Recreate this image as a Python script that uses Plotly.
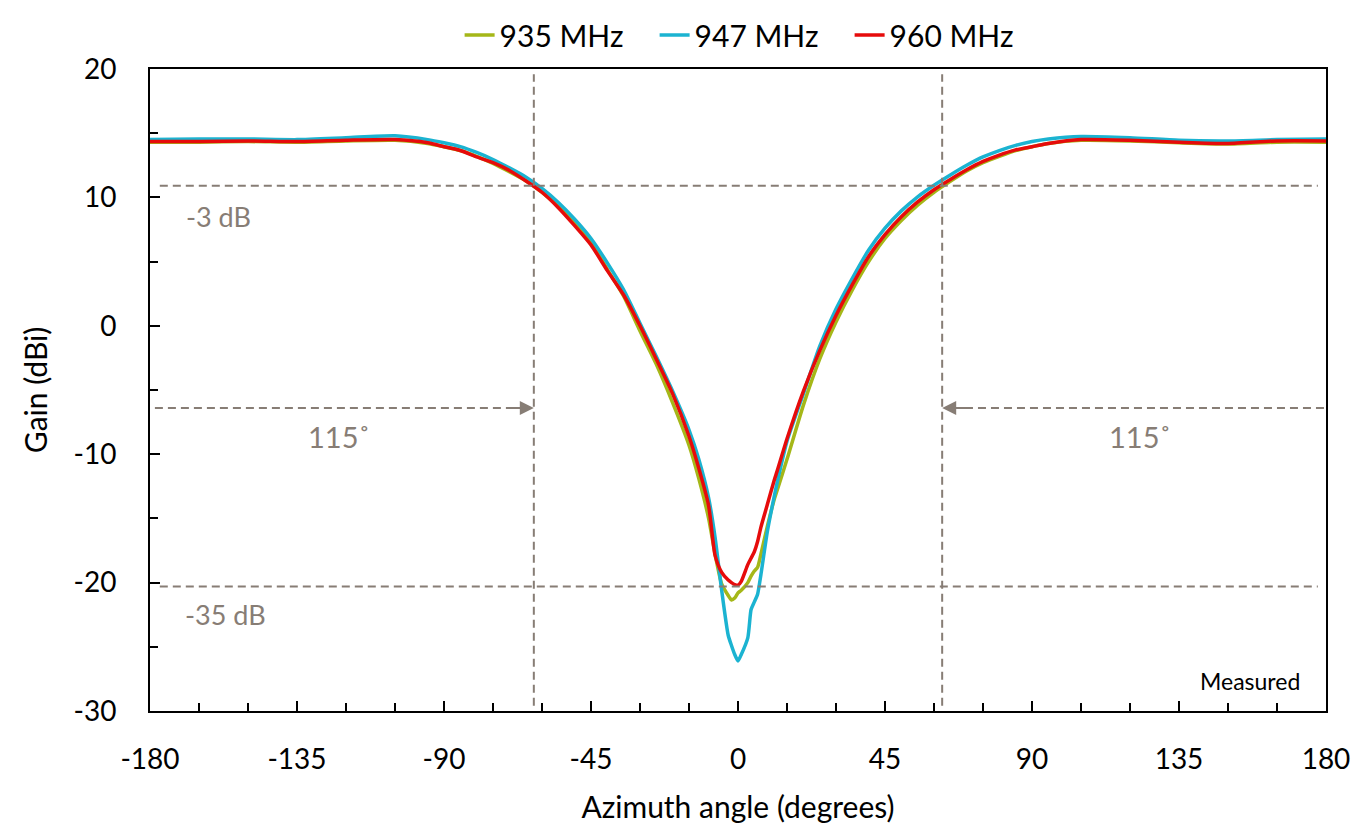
import plotly.graph_objects as go

angles = [-180, -165, -150, -135, -120, -105, -95, -90, -85, -80, -75, -70, -65, -60, -55, -50,
          -45, -40, -35, -30, -25, -20, -15, -12, -9, -7, -5, -3, -2, -1, 0, 1, 3, 4, 5, 6, 7, 9,
          11, 12, 15, 20, 25, 30, 35, 40, 45, 50, 55, 60, 65, 70, 75, 80, 85, 90, 95, 105, 120,
          135, 150, 165, 180]

gain_935 = [14.3, 14.3, 14.35, 14.3, 14.4, 14.45, 14.2, 13.95, 13.65, 13.2, 12.65, 12.0, 11.3, 10.4,
            9.3, 8.0, 6.5, 4.4, 2.3, -0.4, -3.0, -6.0, -9.3, -11.9, -15.0, -17.8, -20.1, -21.0,
            -21.35, -21.2, -20.8, -20.6, -20.0, -19.5, -19.1, -18.8, -17.8, -15.6, -13.6, -12.8,
            -10.4, -6.2, -2.6, 0.3, 2.8, 5.0, 6.8, 8.2, 9.4, 10.4, 11.25, 12.05, 12.7, 13.2, 13.65,
            13.95, 14.2, 14.45, 14.4, 14.25, 14.15, 14.3, 14.3]

gain_947 = [14.5, 14.55, 14.55, 14.5, 14.65, 14.8, 14.5, 14.25, 13.95, 13.5, 12.95, 12.3, 11.6, 10.7,
            9.6, 8.3, 6.8, 4.9, 2.8, 0.2, -2.4, -5.1, -8.1, -10.4, -13.4, -16.5, -20.6, -24.1,
            -24.9, -25.6, -26.1, -25.6, -24.3, -22.1, -21.5, -20.9, -19.4, -16.0, -13.4, -12.2,
            -9.0, -5.3, -1.6, 1.3, 3.7, 5.9, 7.6, 8.95, 10.05, 10.95, 11.75, 12.5, 13.15, 13.65, 14.05,
            14.35, 14.55, 14.75, 14.65, 14.45, 14.4, 14.5, 14.55]

gain_960 = [14.35, 14.35, 14.4, 14.35, 14.45, 14.5, 14.25, 13.95, 13.65, 13.15, 12.7, 12.1, 11.3, 10.4,
            9.2, 7.8, 6.3, 4.3, 2.4, 0.0, -2.6, -5.3, -8.6, -11.1, -14.0, -17.9, -19.2, -19.8,
            -20.0, -20.15, -20.2, -19.9, -18.6, -18.1, -17.6, -16.8, -15.7, -13.9, -12.1, -11.3,
            -8.8, -5.1, -1.95, 0.8, 3.2, 5.4, 7.1, 8.5, 9.65, 10.6, 11.4, 12.15, 12.8, 13.3, 13.7,
            13.95, 14.2, 14.5, 14.45, 14.3, 14.2, 14.4, 14.4]

series_names = ["935 MHz", "947 MHz", "960 MHz"]
series_colors = ["#a5b718", "#1bb3d1", "#e60b0b"]

x_ticks = [-180, -135, -90, -45, 0, 45, 90, 135, 180]
y_ticks = [-30, -20, -10, 0, 10, 20]

beam_edge = 62.5
level_3db = 10.9
level_35db = -20.3
arrow_level = -6.4

FONT = "Lato"
GREY = "#877d75"

fig = go.Figure()
for name, col, g in zip(series_names, series_colors, [gain_935, gain_947, gain_960]):
    fig.add_trace(go.Scatter(x=angles, y=g, mode="lines", name=name,
                             line=dict(color=col, width=3.5, shape="spline", smoothing=0.6)))

dash = "8px,5px"
shapes = []
for xv in (-beam_edge, beam_edge):
    shapes.append(dict(type="line", xref="x", yref="y", x0=xv, x1=xv, y0=-29.6, y1=19.6,
                       line=dict(color=GREY, width=2, dash=dash)))
for yv in (level_3db, level_35db):
    shapes.append(dict(type="line", xref="x", yref="y", x0=-177, x1=177.5, y0=yv, y1=yv,
                       line=dict(color=GREY, width=2, dash=dash)))
shapes.append(dict(type="line", xref="x", yref="y", x0=-178.5, x1=-beam_edge - 3, y0=arrow_level,
                   y1=arrow_level, line=dict(color=GREY, width=2, dash=dash)))
shapes.append(dict(type="line", xref="x", yref="y", x0=beam_edge + 3, x1=179.5, y0=arrow_level,
                   y1=arrow_level, line=dict(color=GREY, width=2, dash=dash)))

annotations = [
    dict(x=-beam_edge, y=arrow_level, ax=-beam_edge - 8, ay=arrow_level, xref="x", yref="y",
         axref="x", ayref="y", text="", showarrow=True, arrowhead=2, arrowsize=1.4,
         arrowwidth=2, arrowcolor=GREY),
    dict(x=beam_edge, y=arrow_level, ax=beam_edge + 8, ay=arrow_level, xref="x", yref="y",
         axref="x", ayref="y", text="", showarrow=True, arrowhead=2, arrowsize=1.4,
         arrowwidth=2, arrowcolor=GREY),
    dict(x=-159, y=8.5, xref="x", yref="y", text="-3 dB", showarrow=False,
         font=dict(family=FONT, size=27, color=GREY)),
    dict(x=-157, y=-22.5, xref="x", yref="y", text="-35 dB", showarrow=False,
         font=dict(family=FONT, size=27, color=GREY)),
    dict(x=-122, y=-8.6, xref="x", yref="y", text="115˚", showarrow=False,
         font=dict(family=FONT, size=29, color=GREY)),
    dict(x=123, y=-8.6, xref="x", yref="y", text="115˚", showarrow=False,
         font=dict(family=FONT, size=29, color=GREY)),
    dict(x=172.5, y=-27.65, xref="x", yref="y", text="Measured", showarrow=False, xanchor="right",
         font=dict(family=FONT, size=23, color="black")),
]

axis_common = dict(showline=True, linecolor="black", linewidth=2, mirror=True, showgrid=False,
                   zeroline=False, ticks="inside", ticklen=10, tickwidth=2, tickcolor="black",
                   tickfont=dict(family=FONT, size=28, color="black"))

fig.update_layout(
    width=1353, height=826,
    paper_bgcolor="white", plot_bgcolor="white",
    margin=dict(l=142, r=35, t=61, b=123, autoexpand=False),
    font=dict(family=FONT, color="black"),
    xaxis=dict(range=[-180, 180], tickvals=x_ticks, ticktext=[str(v) for v in x_ticks],
               minor=dict(dtick=15, ticks="inside", ticklen=8, tickwidth=2, tickcolor="black"),
               title=dict(text="Azimuth angle (degrees)", font=dict(family=FONT, size=30),
                          standoff=23),
               ticklabelstandoff=22,
               **axis_common),
    yaxis=dict(range=[-30, 20], tickvals=y_ticks, ticktext=[str(v) for v in y_ticks],
               minor=dict(dtick=5, ticks="inside", ticklen=8, tickwidth=2, tickcolor="black"),
               title=dict(text="Gain (dBi)", font=dict(family=FONT, size=30), standoff=17),
               ticklabelstandoff=26,
               **axis_common),
    legend=dict(orientation="h", x=0.512, xanchor="center", y=1.053, yanchor="middle",
                font=dict(family=FONT, size=30), itemwidth=30, tracegroupgap=0,
                entrywidth=150, entrywidthmode="pixels",
                bgcolor="rgba(0,0,0,0)"),
    shapes=shapes,
    annotations=annotations,
)

fig.write_html("out.html")
